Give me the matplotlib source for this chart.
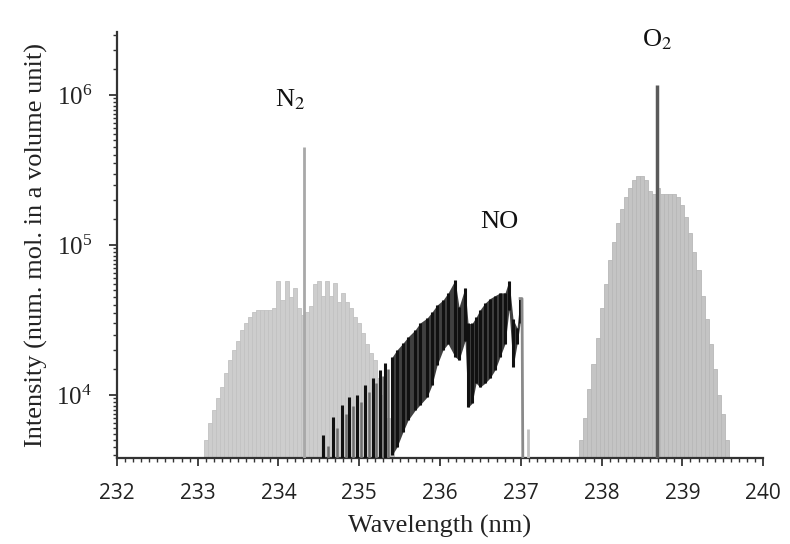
import numpy as np
import matplotlib
matplotlib.use("Agg")
import matplotlib.pyplot as plt
from matplotlib.ticker import MultipleLocator, LogLocator, NullFormatter

plt.rcParams['mathtext.fontset'] = 'stix'

# ---------------- data ----------------
# N2 rotational band (light gray), positions 233.10 .. 235.40 step 0.05
n2_start, n2_step = 233.10, 0.05
n2_heights = [5.0e3, 6.5e3, 8.0e3, 9.5e3, 1.13e4, 1.4e4, 1.7e4, 2.0e4, 2.3e4, 2.7e4,
              3.0e4, 3.3e4, 3.6e4, 3.7e4, 3.7e4, 3.7e4, 3.7e4, 3.8e4, 5.8e4, 4.3e4,
              5.8e4, 4.5e4, 5.2e4, 3.8e4, 3.4e4, 3.6e4, 3.9e4, 5.5e4, 5.8e4, 4.6e4,
              5.8e4, 4.6e4, 5.6e4, 4.2e4, 4.8e4, 4.2e4, 3.8e4, 3.3e4, 3.0e4, 2.6e4,
              2.2e4, 1.9e4, 1.7e4, 1.3e4, 1.0e4, 7.0e3, 5.0e3]
n2_line_wl, n2_line_val = 234.32, 4.5e5

# O2 band (light gray), positions 237.75 .. 239.55 step 0.05
o2_start, o2_step = 237.75, 0.05
o2_heights = [5.0e3, 7.0e3, 1.1e4, 1.6e4, 2.4e4, 3.8e4, 5.5e4, 8.0e4, 1.05e5, 1.4e5,
              1.75e5, 2.1e5, 2.4e5, 2.7e5, 2.9e5, 2.9e5, 2.7e5, 2.3e5, 2.2e5, 2.4e5,
              2.2e5, 2.2e5, 2.2e5, 2.2e5, 2.1e5, 1.85e5, 1.55e5, 1.2e5, 9.0e4, 6.8e4,
              4.6e4, 3.2e4, 2.2e4, 1.5e4, 1.0e4, 7.5e3, 5.0e3]
o2_line_wl, o2_line_val = 238.69, 1.17e6

# NO band (dark lines): position, top, bottom
no_wl = [234.551, 234.675, 234.786, 234.873, 234.972, 235.071, 235.170, 235.257,
         235.319, 235.406, 235.467, 235.542, 235.604, 235.690, 235.752, 235.839,
         235.901, 235.963, 236.037, 236.099, 236.186, 236.235, 236.310, 236.347,
         236.396, 236.446, 236.495, 236.557, 236.619, 236.681, 236.743, 236.805,
         236.854, 236.904, 236.954, 236.991]
no_top = [5.41e3, 7.14e3, 8.58e3, 9.7e3, 1.0e4, 1.17e4, 1.30e4, 1.47e4,
          1.63e4, 1.79e4, 2.0e4, 2.22e4, 2.44e4, 2.71e4, 3.02e4, 3.26e4,
          3.58e4, 3.98e4, 4.3e4, 4.79e4, 5.84e4, 3.86e4, 5.2e4, 3.0e4,
          3.0e4, 3.3e4, 3.7e4, 4.1e4, 4.4e4, 4.6e4, 4.8e4, 4.8e4,
          5.8e4, 3.2e4, 2.8e4, 4.4e4]
no_bottom = [1e3, 1e3, 1e3, 1e3, 1e3, 1e3, 1e3, 1e3,
             1e3, 3.98e3, 4.5e3, 5.7e3, 6.8e3, 7.9e3, 8.6e3, 9.7e3,
             1.17e4, 1.58e4, 2.0e4, 2.2e4, 1.8e4, 1.71e4, 2.3e4, 8.3e3,
             8.8e3, 1.2e4, 1.13e4, 1.2e4, 1.3e4, 1.47e4, 1.8e4, 2.2e4,
             3.7e4, 1.54e4, 2.2e4, 3.0e4]
# weaker NO lines between the strong ones (left part of the band)
no_weak_wl = [234.61, 234.73, 234.83, 234.92, 235.02, 235.12, 235.21, 235.29, 235.36]
no_weak_top = [4.6e3, 6.0e3, 7.5e3, 8.5e3, 9.0e3, 1.05e4, 1.2e4, 1.35e4, 1.5e4]
no_tail_wl = [236.991, 237.015, 237.03]
no_tail_val = [4.4e4, 4.4e4, 1e3]
no_blip_wl, no_blip_val = 237.09, 5.9e3

labels = [("N$_2$", 234.14, 9.3e5), ("NO", 236.74, 1.42e5), ("O$_2$", 238.69, 2.33e6)]
xticks = [232, 233, 234, 235, 236, 237, 238, 239, 240]

# ---------------- plot ----------------
fig = plt.figure(figsize=(7.9, 5.44), dpi=100)
ax = fig.add_axes([0.148, 0.158, 0.818, 0.783])
ax.set_yscale('log')

n2_wl = n2_start + n2_step * np.arange(len(n2_heights))
o2_wl = o2_start + o2_step * np.arange(len(o2_heights))

ax.bar(n2_wl, np.array(n2_heights) - 1, bottom=1, width=n2_step, color='#cdcdcd',
       edgecolor='#c2c2c2', linewidth=0.6, zorder=1)
ax.bar(o2_wl, np.array(o2_heights) - 1, bottom=1, width=o2_step, color='#c4c4c4',
       edgecolor='#b8b8b8', linewidth=0.6, zorder=1)

# fill between NO lines in the dense part
ax.fill_between(no_wl[9:], no_bottom[9:], no_top[9:], color='#404040', lw=0, zorder=2)
ax.vlines(no_weak_wl, [1e3] * len(no_weak_wl), no_weak_top, colors='#6e6e6e',
          linewidth=1.8, zorder=3)
ax.vlines(no_wl, no_bottom, no_top, colors='#111111', linewidth=2.2, zorder=3)
ax.plot(no_tail_wl, no_tail_val, color='#8a8a8a', lw=2, zorder=3)
ax.vlines([no_blip_wl], [1e3], [no_blip_val], colors='#c0c0c0', linewidth=2, zorder=3)

ax.vlines([n2_line_wl], [1], [n2_line_val], colors='#a8a8a8', linewidth=2, zorder=4)
ax.vlines([o2_line_wl], [1], [o2_line_val], colors='#5a5a5a', linewidth=2.5, zorder=4)

for txt, xx, yy in labels:
    ax.text(xx, yy, txt, fontsize=19, family='Liberation Serif', ha='center', va='center',
            color='#111111')

ax.set_xlim(232, 240)
ax.set_ylim(3802, 2.63e6)

for s in ['top', 'right']:
    ax.spines[s].set_visible(False)
for s in ['left', 'bottom']:
    ax.spines[s].set_linewidth(1.6)
    ax.spines[s].set_color('#333333')

ax.set_xticks(xticks)
ax.xaxis.set_minor_locator(MultipleLocator(0.1))
ax.yaxis.set_major_locator(LogLocator(base=10, numticks=10))
ax.yaxis.set_minor_locator(LogLocator(base=10, subs=np.arange(1.5, 10, 0.5), numticks=30))
ax.yaxis.set_minor_formatter(NullFormatter())

ax.tick_params(axis='x', which='major', length=6, width=1.2, pad=12, labelsize=15,
               colors='#222222')
ax.tick_params(axis='x', which='minor', length=3, width=1.0, colors='#333333')
ax.tick_params(axis='y', which='major', length=6, width=1.2, pad=12, labelsize=18,
               colors='#222222')
ax.tick_params(axis='y', which='minor', length=3, width=1.0, colors='#333333')
for lab in ax.get_xticklabels():
    lab.set_family('Open Sans')
for lab in ax.get_yticklabels():
    lab.set_family('Liberation Serif')

ax.set_xlabel('Wavelength (nm)', fontsize=19, family='Liberation Serif', labelpad=8,
              color='#222222')
ax.set_ylabel('Intensity (num. mol. in a volume unit)', fontsize=19,
              family='Liberation Serif', labelpad=6, color='#222222')

fig.savefig('out.png', dpi=100)
